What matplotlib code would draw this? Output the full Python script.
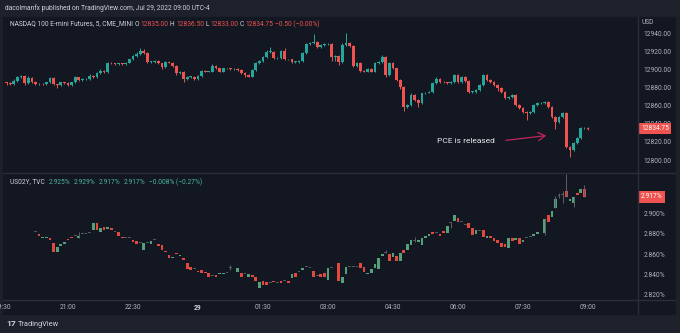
import numpy as np
import matplotlib.pyplot as plt
from matplotlib.patches import Rectangle
from matplotlib.lines import Line2D

W, H = 680, 333

# NASDAQ 100 E-mini, 5 min candles from 19:35 to 09:00
nq_first_open = 12886.0
nq_close = [
    12885.0, 12883.75, 12888.0, 12892.25, 12893.0, 12885.0, 12891.25, 12886.75, 12883.75, 12884.25,
    12883.75, 12886.0, 12890.5, 12883.75, 12882.75, 12886.0, 12885.75, 12883.0, 12886.0, 12891.5,
    12888.5, 12889.5, 12889.5, 12893.5, 12892.25, 12896.0, 12898.5, 12897.5, 12908.0, 12907.0,
    12906.0, 12907.0, 12906.5, 12908.0, 12911.5, 12915.25, 12917.5, 12921.25, 12918.25, 12909.0,
    12909.0, 12909.75, 12907.0, 12903.5, 12909.0, 12908.0, 12904.25, 12896.75, 12898.0, 12889.5,
    12892.25, 12892.25, 12889.5, 12893.0, 12899.0, 12898.0, 12898.0, 12904.25, 12901.5, 12898.0,
    12901.5, 12901.5, 12900.5, 12900.5, 12899.75, 12896.75, 12894.25, 12892.5, 12899.75, 12907.25,
    12910.0, 12914.5, 12920.0, 12920.0, 12912.75, 12912.75, 12921.25, 12911.5, 12911.5, 12909.0,
    12909.0, 12909.75, 12919.0, 12928.5, 12929.25, 12931.0, 12924.75, 12927.5, 12928.5, 12928.5,
    12913.75, 12915.25, 12908.25, 12927.5, 12929.25, 12926.25, 12904.25, 12907.25, 12899.0, 12898.0,
    12900.5, 12898.0, 12907.25, 12909.0, 12914.5, 12894.25, 12907.75, 12901.5, 12888.75, 12881.25,
    12859.0, 12861.0, 12872.0, 12866.5, 12862.75, 12873.75, 12874.75, 12875.75, 12885.75, 12889.5,
    12886.75, 12886.0, 12885.0, 12886.75, 12894.25, 12886.75, 12892.5, 12888.0, 12875.75, 12875.75,
    12877.5, 12883.0, 12894.25, 12888.75, 12886.75, 12883.0, 12879.5, 12875.75, 12868.25, 12869.5,
    12872.0, 12861.0, 12857.25, 12853.5, 12851.75, 12853.5, 12861.0, 12862.75, 12862.75, 12864.5,
    12859.0, 12848.0, 12842.5, 12848.0, 12851.75, 12814.75, 12811.0, 12818.5, 12824.0, 12835.0,
    12835.0, 12834.75]
# wick lengths above / below the body, in points
nq_uw = [1, 1, 1.5, 1, 1, 1, 1.5, 1, 1, 1,
         1, 1, 1.5, 1, 1, 1, 1, 1, 1, 2,
         1, 1, 1, 1.5, 1, 1, 2, 1, 1, 1,
         1, 1, 1, 1, 1, 1, 2, 3, 2, 1,
         1, 1, 1, 1, 1, 1, 1, 1, 1, 1,
         1, 1, 1, 1, 1, 1, 1, 2, 1, 1,
         1, 1, 1, 1, 1, 1, 1, 1, 1, 1,
         1, 1, 2, 5, 1, 1, 1, 3, 1, 1,
         1, 1, 1, 1.5, 2, 9, 1, 1, 1, 1,
         1, 1, 1, 2, 11, 1, 1, 1, 1, 1,
         1, 1, 1, 1, 1.5, 1, 1, 1, 1, 1,
         1, 1, 2, 1, 1, 1, 1, 1, 1, 2,
         1, 1, 1, 1, 1, 1, 1, 1, 1, 1,
         1, 1, 1, 1, 1, 1, 1, 1, 1, 1,
         1, 1, 1, 1, 1, 1, 1, 1, 2, 1,
         1, 1, 1, 1, 1, 1, 1, 1, 1, 1.5,
         2, 1.5]
nq_lw = [2, 1, 1, 1, 1, 1.5, 1, 1, 1, 1,
         1, 1, 1, 1, 3, 1, 1, 1.5, 1, 1,
         1, 1, 1, 1, 1, 1, 1, 1, 1, 1,
         1, 1, 1, 1, 1, 1, 1, 1, 1, 1.5,
         1, 1, 1, 3, 1, 1, 1, 3, 1, 3,
         1, 1, 1, 1, 1, 1, 1, 1, 1, 1,
         1, 1, 1, 1, 1, 1, 2, 1, 1, 1,
         1, 1, 1, 1, 1, 1, 1, 1, 1, 1,
         1, 1, 1, 1, 1, 1, 1, 1, 1, 1,
         4, 4, 3, 1, 1, 1, 1, 1, 1, 1,
         1, 1, 1, 1, 1, 2, 1, 1, 1, 2,
         5, 1, 1, 1, 4, 1, 1, 1, 1, 1,
         1, 1, 1, 1, 1, 1, 1, 2, 2, 1,
         1, 1, 1, 1, 1, 1, 3, 1, 1, 1,
         1, 1, 1, 1, 7, 1, 1, 1, 1, 1,
         1, 1, 8, 1, 1, 1, 7.25, 1, 1, 1,
         1, 1.75]

# US 2Y yield, candles start at index 8 (None = no print)
ust_first = 8
ust_open = [
    2.882, 2.880, 2.876, 2.876, 2.876, 2.871, 2.862, 2.868, 2.870, 2.875,
    2.877, 2.878, 2.876, 2.880, 2.880, 2.881, 2.884, 2.891, 2.882, 2.887,
    2.885, 2.886, 2.882, 2.882, 2.877, 2.876, 2.876, 2.874, 2.873, 2.871,
    2.864, 2.871, 2.870, 2.874, 2.870, 2.869, 2.863, 2.859, 2.856, 2.861,
    2.858, 2.856, 2.851, 2.847, 2.845, 2.843, 2.844, 2.842, 2.841, 2.838,
    2.839, 2.840, 2.840, 2.841, 2.846, None, 2.842, 2.841, 2.840, 2.837,
    2.839, 2.837, 2.826, 2.833, 2.832, 2.831, 2.833, 2.831, 2.833, 2.833,
    2.833, 2.836, 2.841, 2.842, 2.844, 2.847, 2.846, 2.843, 2.838, 2.840,
    2.841, 2.834, 2.846, None, 2.851, 2.831, 2.840, 2.847, 2.847, 2.847,
    2.851, 2.847, 2.840, 2.841, 2.846, 2.845, 2.858, 2.861, 2.860, 2.857,
    2.858, 2.853, 2.864, 2.864, 2.869, 2.873, 2.872, 2.869, 2.876, 2.878,
    2.882, 2.881, 2.880, 2.883, 2.881, 2.891, 2.893, 2.896, 2.892, 2.889,
    2.891, 2.886, 2.880, 2.883, 2.884, 2.876, 2.878, 2.876, 2.874, 2.871,
    2.870, 2.866, 2.876, 2.874, 2.876, 2.872, 2.876, 2.877, 2.878, 2.880,
    None, 2.881, 2.899, 2.897, 2.906, 2.918, 2.919, 2.923, 2.913, 2.911,
    2.921, 2.921, 2.925]
ust_close = [
    2.882, 2.878, 2.877, 2.877, 2.874, 2.862, 2.867, 2.870, 2.872, 2.874,
    2.876, 2.878, 2.878, 2.880, 2.880, 2.881, 2.891, 2.884, 2.886, 2.884,
    2.887, 2.884, 2.882, 2.878, 2.876, 2.876, 2.876, 2.872, 2.870, 2.871,
    2.871, 2.871, 2.873, 2.874, 2.868, 2.864, 2.862, 2.856, 2.857, 2.860,
    2.859, 2.854, 2.845, 2.844, 2.845, 2.842, 2.841, 2.841, 2.837, 2.838,
    2.837, 2.841, 2.841, 2.841, 2.846, None, 2.846, 2.837, 2.840, 2.840,
    2.837, 2.833, 2.832, 2.829, 2.829, 2.831, 2.832, 2.831, 2.831, 2.833,
    2.831, 2.840, 2.837, 2.842, 2.846, 2.847, 2.846, 2.837, 2.838, 2.837,
    2.837, 2.846, 2.846, None, 2.833, 2.837, 2.847, 2.847, 2.847, 2.847,
    2.846, 2.842, 2.841, 2.845, 2.850, 2.856, 2.860, 2.861, 2.853, 2.861,
    2.853, 2.861, 2.861, 2.870, 2.874, 2.873, 2.874, 2.876, 2.878, 2.880,
    2.880, 2.881, 2.878, 2.881, 2.888, 2.891, 2.899, 2.892, 2.892, 2.889,
    2.886, 2.879, 2.884, 2.883, 2.877, 2.878, 2.876, 2.873, 2.871, 2.867,
    2.867, 2.876, 2.873, 2.876, 2.870, 2.874, 2.876, 2.877, 2.880, 2.882,
    None, 2.895, 2.892, 2.903, 2.915, 2.918, 2.919, 2.917, 2.915, 2.917,
    2.919, 2.925, 2.917]
ust_wick_idx = [20, 62, 105, 113, 123, 149, 152, 153, 154, 155, 157, 160]
ust_wick_hi = [2.882, 2.849, 2.864, 2.877, 2.892, 2.895, 2.918, 2.921, 2.923, 2.940, 2.917, 2.929]
ust_wick_lo = [2.876, 2.844, 2.861, 2.872, 2.886, 2.879, 2.906, 2.916, 2.911, 2.917, 2.907, 2.917]

time_labels = ["19:30", "21:00", "22:30", "29", "01:30", "03:00", "04:30", "06:00", "07:30", "09:00"]
time_idx = [-1, 17, 35, 53, 71, 89, 107, 125, 143, 161]
nq_ticks = [12800, 12820, 12840, 12860, 12880, 12900, 12920, 12940]
ust_ticks = [2.820, 2.840, 2.860, 2.880, 2.900]

nq_legend = [("NASDAQ 100 E-mini Futures, 5, CME_MINI", "hdr"), ("O", "hdr"), ("12835.00", "val"),
             ("H", "hdr"), ("12836.50", "val"), ("L", "hdr"), ("12833.00", "val"),
             ("C", "hdr"), ("12834.75", "val"), ("\u22120.50 (\u22120.00%)", "val")]
ust_legend = ["US02Y, TVC", "2.925%", "2.929%", "2.917%", "2.917%", "\u22120.008% (\u22120.27%)"]

BG = "#131722"
FRAME = "#1e212b"
GRID = "#2a2e39"
TXT = "#b2b5be"
HDR = "#d1d4dc"
UP, DOWN = "#26a69a", "#ef5350"
UP2, DOWN2, DOJI = "#53a07a", "#e0493e", "#4f5b5a"
FONT = "Roboto"
FS = 4.8


def fx(px):
    return px / W


def fy(py):
    return 1 - py / H


fig = plt.figure(figsize=(W / 100, H / 100), dpi=100, facecolor=FRAME)
renderer = fig.canvas.get_renderer()
fig.patches.append(Rectangle((fx(3), fy(314)), fx(672), (314 - 17) / H,
                             transform=fig.transFigure, color=BG, zorder=-5))

ax1 = fig.add_axes([fx(3), fy(172), fx(635), 155 / H], facecolor=BG)
ax2 = fig.add_axes([fx(3), fy(300), fx(635), 127 / H], facecolor=BG, sharex=ax1)

# separators
for y in (172.5, 300):
    fig.add_artist(Line2D([fx(3), fx(675)], [fy(y), fy(y)], color=GRID, lw=1))
fig.add_artist(Line2D([fx(638), fx(638)], [fy(17), fy(314)], color=GRID, lw=1))

# ---- NASDAQ candles
n = len(nq_close)
x_nq = np.arange(n)
nq_open = [nq_first_open] + nq_close[:-1]
body_lo = [min(o, c) for o, c in zip(nq_open, nq_close)]
body_hi = [max(o, c) for o, c in zip(nq_open, nq_close)]
cols = [UP if c >= o else DOWN for o, c in zip(nq_open, nq_close)]
hts = [max(h - l, 0.5) for h, l in zip(body_hi, body_lo)]
ax1.vlines(x_nq, [l - w for l, w in zip(body_lo, nq_lw)],
           [h + w for h, w in zip(body_hi, nq_uw)], colors=cols, lw=0.7)
ax1.bar(x_nq, hts, width=0.75, bottom=body_lo, color=cols, linewidth=0)

# ---- US02Y candles
xs, bl, bh, bc = [], [], [], []
for k, (o, c) in enumerate(zip(ust_open, ust_close)):
    if o is None:
        continue
    xs.append(ust_first + k)
    bl.append(min(o, c))
    bh.append(max(abs(c - o), 0.0007))
    bc.append(DOJI if c == o else (UP2 if c > o else DOWN2))
ax2.vlines(ust_wick_idx, ust_wick_lo, ust_wick_hi, colors="#5d606b", lw=0.7)
ax2.bar(xs, bh, width=0.75, bottom=bl, color=bc, linewidth=0)

# ---- axes styling
ax1.set_xlim(-1.0, 174.85)
ax1.set_ylim(12786.7, 12958.5)
ax2.set_ylim(2.814, 2.941)
for ax in (ax1, ax2):
    for s in ax.spines.values():
        s.set_visible(False)
    ax.yaxis.tick_right()
    ax.tick_params(axis="y", length=0, pad=4, labelsize=FS, labelcolor=TXT)
ax1.set_yticks(nq_ticks, [f"{v:.2f}" for v in nq_ticks], fontfamily=FONT)
ax2.set_yticks(ust_ticks, [f"{v:.3f}%" for v in ust_ticks], fontfamily=FONT)
ax1.tick_params(axis="x", length=0, labelbottom=False)
ax2.set_xticks(time_idx, time_labels, fontfamily=FONT)
ax2.tick_params(axis="x", length=0, pad=3, labelsize=FS, labelcolor=TXT)
for t in ax2.get_xticklabels():
    if t.get_text() == "29":
        t.set_color(HDR)
        t.set_fontweight("bold")

# last price tags
tag = dict(boxstyle="square,pad=0.35", fc=DOWN, ec="none")
ax1.annotate(f"{nq_close[-1]:.2f}", xy=(1, nq_close[-1]), xycoords=("axes fraction", "data"),
             xytext=(3, 0), textcoords="offset pixels", ha="left", va="center",
             fontsize=FS, color="white", fontfamily=FONT, bbox=tag, annotation_clip=False)
ax2.annotate(f"{ust_close[-1]:.3f}%", xy=(1, ust_close[-1]), xycoords=("axes fraction", "data"),
             xytext=(3, 0), textcoords="offset pixels", ha="left", va="center",
             fontsize=FS, color="white", fontfamily=FONT, bbox=tag, annotation_clip=False)

# annotation
ax1.text(127.2, 12821, "PCE is released", color="#e6e8ee", fontsize=6, fontfamily=FONT,
         ha="center", va="center")
ax1.annotate("", xy=(150.2, 12827.4), xytext=(137.5, 12821.4),
             arrowprops=dict(arrowstyle="->,head_length=0.5,head_width=0.3",
                             color="#c2255c", lw=0.9))


def text_row(x0, y0, pieces, gap):
    x = x0
    for s, c in pieces:
        t = fig.text(fx(x), fy(y0), s, color=c, fontsize=FS, fontfamily=FONT, va="center")
        x = t.get_window_extent(renderer).x1 + gap


# header / legends
fig.text(fx(5), fy(8), "dacolmanfx published on TradingView.com, Jul 29, 2022 09:00 UTC-4",
         color=HDR, fontsize=FS, fontfamily=FONT, va="center")
text_row(10, 24, [(s, HDR if k == "hdr" else DOWN) for s, k in nq_legend], 1.5)
fig.text(fx(642), fy(22), "USD", color=TXT, fontsize=FS, fontfamily=FONT, va="center")
text_row(10, 182, [(s, HDR if i == 0 else "#4cb6a6") for i, s in enumerate(ust_legend)], 3.5)

# footer
fig.text(fx(6), fy(324), "17", color=HDR, fontsize=6, fontweight="bold",
         fontfamily=FONT, va="center")
fig.text(fx(18), fy(324), "TradingView", color=HDR, fontsize=5.3, fontfamily=FONT,
         va="center")

fig.savefig("out.png", dpi=100, facecolor=FRAME)
